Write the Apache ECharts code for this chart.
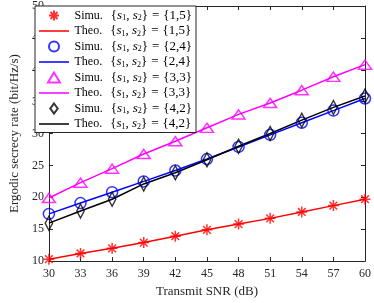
<!DOCTYPE html>
<html><head><meta charset="utf-8">
<script src="https://cdn.jsdelivr.net/npm/echarts@6/dist/echarts.min.js"></script>
<style>html,body{margin:0;padding:0;background:#fff}#c{width:374px;height:303px}</style>
</head><body><div id="c"></div>
<script>
const snr = [30, 33, 36, 39, 42, 45, 48, 51, 54, 57, 60];
const xTicks = [30, 33, 36, 39, 42, 45, 48, 51, 54, 57, 60];
const yTicks = [10, 15, 20, 25, 30, 35, 40, 45, 50];
const cfgLabels = ['1,5', '2,4', '3,3', '4,2'];
const simu15 = [10.3, 11.2, 12.0, 12.9, 13.9, 14.9, 15.8, 16.7, 17.7, 18.7, 19.7];
const theo15 = [10.3, 11.2, 12.0, 12.9, 13.9, 14.9, 15.8, 16.7, 17.7, 18.7, 19.7];
const simu24 = [17.4, 19.1, 20.8, 22.5, 24.2, 26.0, 27.9, 29.8, 31.7, 33.6, 35.5];
const theo24 = [17.4, 19.1, 20.8, 22.5, 24.2, 26.0, 27.9, 29.8, 31.7, 33.6, 35.5];
const simu33 = [19.9, 22.3, 24.5, 26.8, 28.8, 30.9, 33.0, 34.8, 36.8, 38.9, 40.8];
const theo33 = [19.9, 22.3, 24.5, 26.8, 28.8, 30.9, 33.0, 34.8, 36.8, 38.9, 40.8];
const simu42 = [15.95, 17.85, 19.7, 22.1, 23.85, 25.9, 28.0, 30.0, 32.1, 34.1, 35.9];
const theo42 = [15.95, 17.85, 19.7, 22.1, 23.85, 25.9, 28.0, 30.0, 32.1, 34.1, 35.9];

const colors = ['#ff0000', '#0000ff', '#ff00ff', '#000000'];
const simuData = [simu15, simu24, simu33, simu42];
const theoData = [theo15, theo24, theo33, theo42];
const star = 'path://M0,-10L0,10M-10,0L10,0M-7,-7L7,7M-7,7L7,-7';
const tri = 'path://M0,-5L6,5L-6,5Z';
const dia = 'path://M0,-6.5L4.8,0L0,6.5L-4.8,0Z';
const symbols = [star, 'circle', tri, dia];
const symSizes = [[11, 11], [11, 11], [13, 11], [10, 14]];
const lineIcon = 'path://M0,0L0.01,0L0,0.01ZM0,4.2L30,4.2L30,5.8L0,5.8ZM0,10L0.01,10L0,9.99Z';
const FONT = '"Liberation Serif", "Times New Roman", serif';
const axisColor = '#262626';

const legendData = [];
const series = [];
for (let i = 0; i < 4; i++) {
  const sName = 'Simu. ' + cfgLabels[i];
  const tName = 'Theo. ' + cfgLabels[i];
  legendData.push({ name: sName }, { name: tName, icon: lineIcon });
  series.push({
    name: sName, type: 'scatter', z: 3,
    data: snr.map((x, k) => [x, simuData[i][k]]),
    symbol: symbols[i], symbolSize: symSizes[i], symbolKeepAspect: true,
    itemStyle: { color: 'none', borderColor: colors[i], borderWidth: 1.5 }
  });
  series.push({
    name: tName, type: 'line', z: 2,
    data: snr.map((x, k) => [x, theoData[i][k]]),
    symbol: 'none', showSymbol: false,
    lineStyle: { color: colors[i], width: 1.5 },
    itemStyle: { color: colors[i] }
  });
}

const chart = echarts.init(document.getElementById('c'), null, { renderer: 'canvas' });
const axisCommon = {
  axisLine: { show: true, lineStyle: { color: axisColor, width: 1 } },
  axisTick: { show: true, inside: true, length: 4, lineStyle: { color: axisColor } },
  splitLine: { show: false },
  axisLabel: { color: axisColor, fontFamily: FONT, fontSize: 12 }
};
chart.setOption({
  animation: false,
  backgroundColor: '#fff',
  grid: { left: 35, right: 9, top: 6, bottom: 37, containLabel: false },
  xAxis: [
    Object.assign({}, axisCommon, {
      type: 'value', min: xTicks[0], max: xTicks[xTicks.length - 1], interval: 3,
      name: 'Transmit SNR (dB)', nameLocation: 'middle', nameGap: 22,
      nameTextStyle: { color: axisColor, fontFamily: FONT, fontSize: 13 },
      axisLabel: Object.assign({}, axisCommon.axisLabel, { margin: 7 })
    }),
    Object.assign({}, axisCommon, {
      type: 'value', position: 'top', min: xTicks[0], max: xTicks[xTicks.length - 1], interval: 3,
      axisLabel: { show: false }
    })
  ],
  yAxis: [
    Object.assign({}, axisCommon, {
      type: 'value', min: yTicks[0], max: yTicks[yTicks.length - 1], interval: 5,
      name: 'Ergodic secrecy rate (bit/Hz/s)', nameLocation: 'middle', nameGap: 21,
      nameTextStyle: { color: axisColor, fontFamily: FONT, fontSize: 13 },
      axisLabel: Object.assign({}, axisCommon.axisLabel, { margin: 5 })
    }),
    Object.assign({}, axisCommon, {
      type: 'value', position: 'right', min: yTicks[0], max: yTicks[yTicks.length - 1], interval: 5,
      axisLabel: { show: false }
    })
  ],
  legend: {
    show: true, orient: 'vertical', left: 35, top: 6,
    data: legendData,
    itemWidth: 31, itemHeight: 10, itemGap: 1.5,
    padding: [2, 4, 2, 4],
    backgroundColor: '#fff', borderColor: axisColor, borderWidth: 1,
    formatter: function (n) {
      const kind = n.split(' ')[0];
      const cfg = n.substring(kind.length + 1);
      return '{t|' + kind + '}{g| }{{i|s}{sub|1}, {i|s}{sub|2}}{e|=}{' + cfg + '}';
    },
    textStyle: {
      fontFamily: FONT, fontSize: 13, color: '#000', lineHeight: 13,
      rich: {
        t: { fontFamily: FONT, fontSize: 12, lineHeight: 13 },
        g: { fontFamily: FONT, fontSize: 12, width: 8, lineHeight: 13 },
        e: { fontFamily: FONT, fontSize: 13, lineHeight: 13, padding: [0, 4, 0, 4] },
        i: { fontFamily: FONT, fontSize: 13, fontStyle: 'italic', lineHeight: 13 },
        sub: { fontFamily: FONT, fontSize: 8, lineHeight: 9, verticalAlign: 'bottom' }
      }
    }
  },
  series: series
});
</script></body></html>
